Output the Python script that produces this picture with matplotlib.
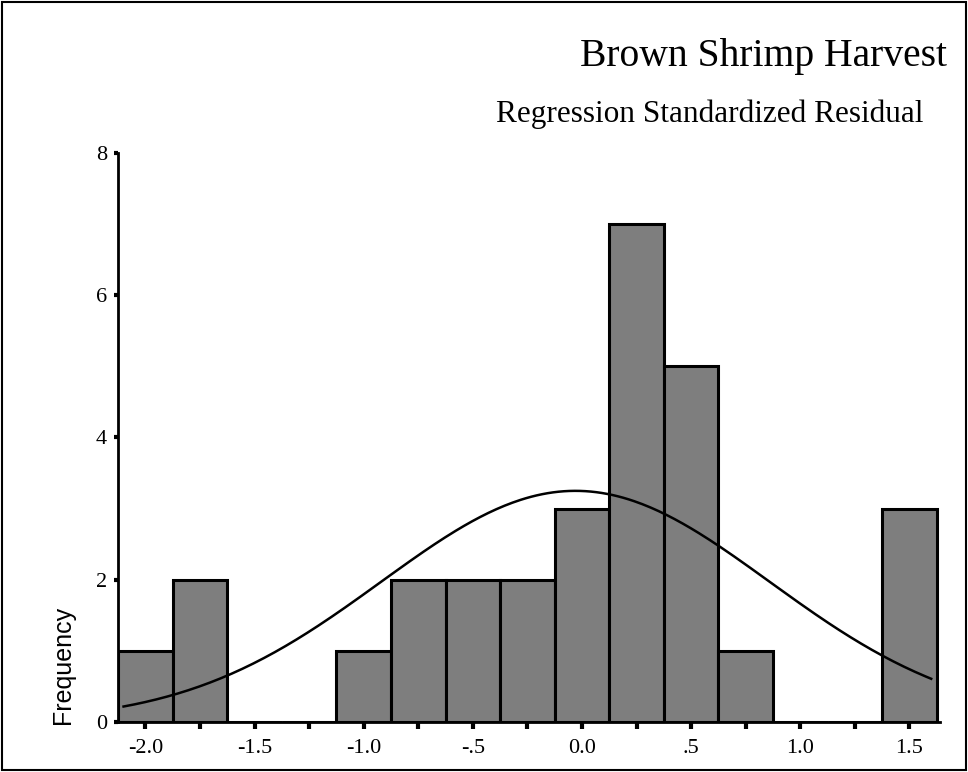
"""Histogram of regression standardized residuals, brown shrimp harvest."""
import matplotlib
matplotlib.use("Agg")
import matplotlib.pyplot as plt
import numpy as np
from matplotlib.patches import Rectangle

# bin centres (width 0.25) and counts
bin_centers = [-2.0, -1.75, -1.5, -1.25, -1.0, -0.75, -0.5, -0.25,
               0.0, 0.25, 0.5, 0.75, 1.0, 1.25, 1.5]
counts = [1, 2, 0, 0, 1, 2, 2, 2, 3, 7, 5, 1, 0, 0, 3]
bin_width = 0.25

# fitted normal curve parameters
fit_mean = -0.03
fit_sd = 0.89

x_tick_pos = [-2.0, -1.5, -1.0, -0.5, 0.0, 0.5, 1.0, 1.5]
x_tick_labels = ["-2.0", "-1.5", "-1.0", "-.5", "0.0", ".5", "1.0", "1.5"]
y_ticks = [0, 2, 4, 6, 8]

serif = ["Liberation Serif", "DejaVu Serif"]

fig = plt.figure(figsize=(9.68, 7.72), dpi=100)
ax = fig.add_axes([0.122, 0.0648, 0.849, 0.737])

ax.bar(bin_centers, counts, width=bin_width, color="#7e7e7e",
       edgecolor="black", linewidth=2.2, zorder=2)

n_total = sum(counts)
xs = np.linspace(-2.1, 1.6, 300)
ys = n_total * bin_width / (fit_sd * np.sqrt(2 * np.pi)) * \
    np.exp(-0.5 * ((xs - fit_mean) / fit_sd) ** 2)
ax.plot(xs, ys, color="black", lw=1.8, zorder=3)

ax.set_xlim(-2.125, 1.64)
ax.set_ylim(0, 8)
for s in ["top", "right"]:
    ax.spines[s].set_visible(False)
for s in ["left", "bottom"]:
    ax.spines[s].set_linewidth(2)

ax.set_xticks(np.arange(-2.0, 1.51, 0.25), minor=True)
ax.set_xticks(x_tick_pos)
ax.set_xticklabels(x_tick_labels, fontfamily=serif, fontsize=16)
ax.tick_params(axis="x", which="both", direction="out", length=5, width=3,
               pad=7)
ax.set_yticks(y_ticks)
ax.set_yticklabels([str(v) for v in y_ticks], fontfamily=serif, fontsize=16)
ax.tick_params(axis="y", direction="out", length=3, width=3, pad=5)

ax.set_ylabel("Frequency", fontfamily=["Liberation Sans", "DejaVu Sans"],
              fontsize=18)
ax.yaxis.set_label_coords(-0.052, 0.10)

fig.text(0.978, 0.927, "Brown Shrimp Harvest", ha="right", va="center",
         fontfamily=serif, fontsize=28.5)
fig.text(0.954, 0.852, "Regression Standardized Residual", ha="right",
         va="center", fontfamily=serif, fontsize=22.5)

# page border
fig.patches.append(Rectangle((0.002, 0.003), 0.996, 0.994,
                             transform=fig.transFigure, fill=False,
                             edgecolor="black", lw=1.5))

fig.savefig("out.png", dpi=100)
plt.close(fig)
